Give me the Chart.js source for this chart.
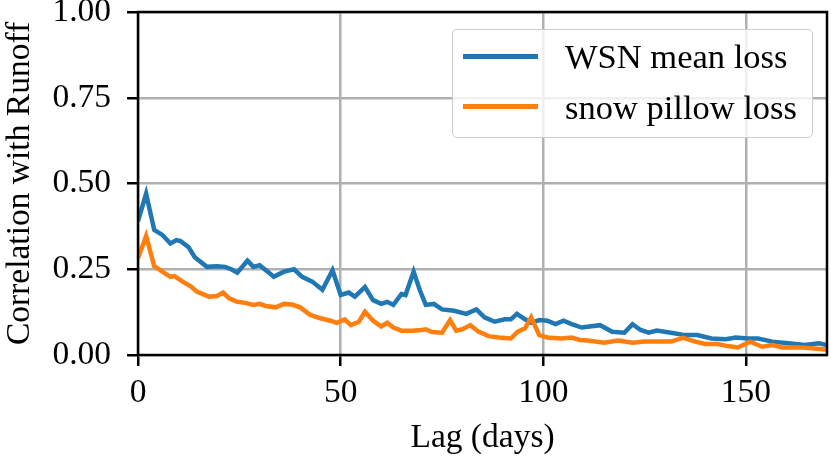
<!DOCTYPE html>
<html>
<head>
<meta charset="utf-8">
<script src="https://cdn.jsdelivr.net/npm/chart.js@4"></script>
<style>
  body { margin: 0; background: #fff; }
  #wrap { position: relative; width: 831px; height: 463px; }
  #legend {
    position: absolute; left: 452px; top: 29px; width: 361px; height: 109px;
    box-sizing: border-box; border: 1.5px solid #cccccc; border-radius: 5px;
    background: rgba(255,255,255,0.8);
    font-family: "Liberation Serif", "DejaVu Serif", serif; font-size: 34.5px; color: #000;
  }
  #legend .sw { position: absolute; left: 10px; width: 75px; height: 4.5px; }
  #legend .tx { position: absolute; left: 112px; line-height: 34px; white-space: nowrap; }
</style>
</head>
<body>
<div id="wrap">
  <canvas id="chart" width="831" height="463"></canvas>
  <div id="legend">
    <div class="sw" style="top:24px;background:#1f77b4"></div>
    <div class="tx" style="top:9px">WSN mean loss</div>
    <div class="sw" style="top:74px;background:#ff7f0e"></div>
    <div class="tx" style="top:60px">snow pillow loss</div>
  </div>
</div>
<script>
// WSN mean loss
const wsnLag = [0,2,4,6,8,9.5,10.5,12.5,14,17,19.5,21.5,23,24.5,27,28.5,30,32,33.5,36,38.5,40.5,43,45.5,48,50,52,53.5,56,58,60,61.5,63,65,66,68,69.5,71,73,75,78,81,83.5,85.5,88,90.5,92,93.5,95.5,97,99,101,103,105,107,109.5,114,117,120,122,124,126,128,131.5,135,138,141.5,145,147.5,150.5,153,156.5,160.5,164.5,168,170];
const wsnCorr = [0.39,0.47,0.365,0.35,0.325,0.335,0.332,0.314,0.285,0.257,0.259,0.257,0.25,0.24,0.275,0.257,0.262,0.243,0.228,0.243,0.25,0.228,0.214,0.19,0.247,0.175,0.182,0.17,0.198,0.16,0.149,0.155,0.146,0.178,0.175,0.243,0.19,0.146,0.149,0.133,0.129,0.12,0.133,0.11,0.097,0.104,0.104,0.12,0.104,0.094,0.102,0.1,0.09,0.1,0.09,0.08,0.087,0.068,0.065,0.09,0.073,0.065,0.071,0.065,0.058,0.058,0.048,0.046,0.051,0.048,0.048,0.039,0.034,0.029,0.034,0.029];

// snow pillow loss
const pillowLag = [0,2,4,6,8,9,11,13,14.5,17.5,19.5,21,22.5,24.5,26.5,28.5,30,31.5,34,36,38,40,42.5,45,47.5,49,51,52.5,54.5,56,58,60,61.5,63,65,67.5,70,71,72.5,75,77,78.5,80,82,84,86.5,89,92,93.7,95.5,97,99,101,104.5,107,109,111,115,118.5,122,125,131.5,134.5,137.5,140,143,145.5,148,151,154,156.5,159,164,169,170];
const pillowCorr = [0.282,0.347,0.259,0.243,0.228,0.23,0.214,0.2,0.185,0.17,0.172,0.182,0.165,0.155,0.152,0.146,0.149,0.143,0.139,0.149,0.147,0.139,0.117,0.107,0.1,0.094,0.104,0.087,0.097,0.126,0.1,0.083,0.094,0.08,0.071,0.071,0.073,0.075,0.067,0.065,0.102,0.071,0.075,0.087,0.068,0.055,0.051,0.048,0.068,0.078,0.11,0.058,0.051,0.048,0.051,0.044,0.042,0.036,0.042,0.036,0.039,0.039,0.05,0.039,0.032,0.032,0.026,0.022,0.039,0.024,0.029,0.022,0.022,0.017,0.015];

const xTicks = [0, 50, 100, 150];
const yTicks = [0, 0.25, 0.5, 0.75, 1];

const FONT = "'Liberation Serif', 'DejaVu Serif', serif";

function toPoints(xs, ys) {
  return xs.map((x, i) => ({ x: x, y: ys[i] }));
}

// black box around the plot area
const frame = {
  id: "frame",
  afterDatasetsDraw(chart) {
    const a = chart.chartArea;
    const ctx = chart.ctx;
    ctx.save();
    ctx.strokeStyle = "#000";
    ctx.lineWidth = 2.5;
    ctx.strokeRect(a.left, a.top, a.right - a.left, a.bottom - a.top);
    ctx.restore();
  }
};

new Chart(document.getElementById("chart"), {
  type: "line",
  data: {
    datasets: [
      {
        label: "WSN mean loss",
        data: toPoints(wsnLag, wsnCorr),
        borderColor: "#1f77b4",
        borderWidth: 4.5,
        pointRadius: 0,
        tension: 0,
        order: 1
      },
      {
        label: "snow pillow loss",
        data: toPoints(pillowLag, pillowCorr),
        borderColor: "#ff7f0e",
        borderWidth: 4.5,
        pointRadius: 0,
        tension: 0,
        order: 0
      }
    ]
  },
  options: {
    responsive: false,
    devicePixelRatio: 1,
    animation: false,
    layout: { padding: { left: 0, right: 4, top: 12, bottom: 0 } },
    plugins: { legend: { display: false }, tooltip: { enabled: false } },
    scales: {
      x: {
        type: "linear",
        min: 0,
        max: 170,
        afterBuildTicks: s => { s.ticks = xTicks.map(v => ({ value: v })); },
        afterFit: s => { s.height = 108; s.paddingLeft = 0; s.paddingRight = 0; },
        border: { display: false },
        grid: { color: "#b0b0b0", lineWidth: 2.5, tickColor: "#000", tickWidth: 2.5, tickLength: 11 },
        ticks: { color: "#000", font: { family: FONT, size: 33.5 }, padding: 7, maxRotation: 0 },
        title: { display: true, text: "Lag (days)", color: "#000", font: { family: FONT, size: 33.5, lineHeight: 1.2 }, padding: { top: 0, bottom: 5 } }
      },
      y: {
        min: 0,
        max: 1,
        afterBuildTicks: s => { s.ticks = yTicks.map(v => ({ value: v })); },
        afterFit: s => { s.width = 138; s.paddingTop = 0; s.paddingBottom = 0; },
        border: { display: false },
        grid: { color: "#b0b0b0", lineWidth: 2.5, tickColor: "#000", tickWidth: 2.5, tickLength: 11 },
        ticks: { color: "#000", font: { family: FONT, size: 33.5 }, padding: 16, callback: v => v.toFixed(2) },
        title: { display: true, text: "Correlation with Runoff", color: "#000", font: { family: FONT, size: 33.5, lineHeight: 1.2 }, padding: { top: 0, bottom: 0 } }
      }
    }
  },
  plugins: [frame]
});
</script>
</body>
</html>
